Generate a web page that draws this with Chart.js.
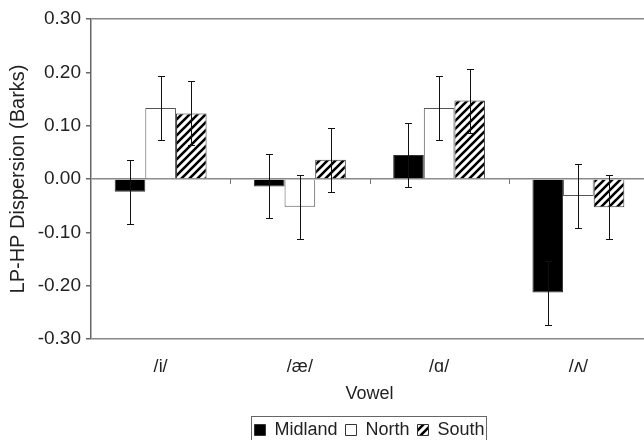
<!DOCTYPE html>
<html>
<head>
<meta charset="utf-8">
<script src="https://cdn.jsdelivr.net/npm/chart.js@4"></script>
<style>
  html, body { margin: 0; padding: 0; background: #fff; overflow: hidden; }
  #wrap { width: 652px; height: 440px; }
</style>
</head>
<body>
<div id="wrap"><canvas id="chart"></canvas></div>
<script>
// 数据
const vowels = ['/i/', '/æ/', '/ɑ/', '/ʌ/'];
const seriesNames = ['Midland', 'North', 'South'];
const midland = [-0.024, -0.014, 0.045, -0.213];
const north = [0.133, -0.052, 0.133, -0.032];
const south = [0.123, 0.036, 0.147, -0.053];
const midlandErr = [0.06, 0.06, 0.06, 0.06];
const northErr = [0.06, 0.06, 0.06, 0.06];
const southErr = [0.06, 0.06, 0.06, 0.06];
const yTicks = [-0.3, -0.2, -0.1, 0, 0.1, 0.2, 0.3];

const FONT = '"Liberation Sans", Arial, sans-serif';
const TEXT = '#222';

// 斜线填充
function makeHatch() {
  const c = document.createElement('canvas');
  c.width = 8; c.height = 8;
  const g = c.getContext('2d');
  g.fillStyle = '#fff';
  g.fillRect(0, 0, 8, 8);
  g.strokeStyle = '#000';
  g.lineWidth = 2.6;
  g.beginPath();
  g.moveTo(-2, 10); g.lineTo(10, -2);
  g.moveTo(-6, 6); g.lineTo(6, -6);
  g.moveTo(2, 14); g.lineTo(14, 2);
  g.stroke();
  return g.createPattern(c, 'repeat');
}
const hatch = makeHatch();

// 误差线 + 零线上的分类刻度 + 图例外框
const extras = {
  id: 'extras',
  afterDatasetsDraw(chart) {
    const ctx = chart.ctx;
    const y = chart.scales.y;
    const x = chart.scales.x;
    ctx.save();
    const y0 = y.getPixelForValue(0);
    ctx.strokeStyle = '#777';
    ctx.lineWidth = 1;
    ctx.beginPath();
    for (let i = 1; i < vowels.length; i++) {
      const px = Math.round((x.getPixelForTick(i - 1) + x.getPixelForTick(i)) / 2) + 0.5;
      ctx.moveTo(px, y0);
      ctx.lineTo(px, y0 + 5);
    }
    ctx.stroke();
    // error bars
    ctx.strokeStyle = '#111';
    chart.data.datasets.forEach((ds, di) => {
      const meta = chart.getDatasetMeta(di);
      meta.data.forEach((bar, i) => {
        const v = ds.data[i], e = ds.errors[i];
        const cx = Math.round(bar.x) + 0.5;
        const top = Math.round(y.getPixelForValue(v + e)) + 0.5;
        const bot = Math.round(y.getPixelForValue(v - e)) + 0.5;
        ctx.beginPath();
        ctx.moveTo(cx, top); ctx.lineTo(cx, bot);
        ctx.moveTo(cx - 3.5, top); ctx.lineTo(cx + 3.5, top);
        ctx.moveTo(cx - 3.5, bot); ctx.lineTo(cx + 3.5, bot);
        ctx.stroke();
      });
    });
    ctx.restore();
  },
  afterDraw(chart) {
    const boxes = chart.legend && chart.legend.legendHitBoxes;
    if (!boxes || !boxes.length) return;
    const l = Math.min(...boxes.map(b => b.left)) - 3;
    const r = Math.max(...boxes.map(b => b.left + b.width)) + 2;
    const t = Math.min(...boxes.map(b => b.top)) - 5;
    const b2 = Math.max(...boxes.map(b => b.top + b.height)) + 1;
    const ctx = chart.ctx;
    ctx.save();
    ctx.strokeStyle = '#666';
    ctx.lineWidth = 1;
    ctx.strokeRect(Math.round(l) + 0.5, Math.round(t) + 0.5, Math.round(r - l), Math.round(b2 - t));
    ctx.restore();
  }
};

new Chart(document.getElementById('chart'), {
  type: 'bar',
  data: {
    labels: vowels,
    datasets: [
      { label: seriesNames[0], data: midland, errors: midlandErr,
        backgroundColor: '#000', borderColor: '#333', borderWidth: 1 },
      { label: seriesNames[1], data: north, errors: northErr,
        backgroundColor: '#fff', borderColor: '#555', borderWidth: 1 },
      { label: seriesNames[2], data: south, errors: southErr,
        backgroundColor: hatch, borderColor: '#333', borderWidth: 1 }
    ]
  },
  options: {
    responsive: true,
    maintainAspectRatio: false,
    animation: false,
    datasets: { bar: { categoryPercentage: 0.66, barPercentage: 1.0 } },
    layout: { padding: { left: 0, right: 4, top: 19, bottom: -9 } },
    plugins: {
      tooltip: { enabled: false },
      legend: {
        position: 'bottom',
        fullSize: false,
        labels: {
          color: TEXT,
          font: { family: FONT, size: 18 },
          boxWidth: 11,
          boxHeight: 11,
          padding: 3,
          generateLabels(chart) {
            const n = chart.data.datasets.length;
            return chart.data.datasets.map((ds, i) => ({
              text: i < n - 1 ? ds.label + ' ' : ds.label,
              fillStyle: ds.backgroundColor,
              strokeStyle: '#333',
              lineWidth: 1,
              fontColor: TEXT,
              datasetIndex: i
            }));
          }
        }
      }
    },
    scales: {
      x: {
        grid: { display: false, drawTicks: false },
        border: { display: false },
        ticks: { color: TEXT, font: { family: FONT, size: 18 }, padding: 17 },
        title: { display: true, text: 'Vowel', color: TEXT,
                 font: { family: FONT, size: 18 }, padding: { top: 4, bottom: 13 } },
        afterFit(scale) { scale.height = 79; }
      },
      y: {
        min: -0.3,
        max: 0.3,
        afterBuildTicks(scale) { scale.ticks = yTicks.map(v => ({ value: v })); },
        ticks: {
          color: TEXT,
          font: { family: FONT, size: 19 },
          padding: 5,
          callback: v => v.toFixed(2)
        },
        grid: {
          drawOnChartArea: true,
          color: ctx => (Math.abs(ctx.tick.value) < 1e-9 || Math.abs(Math.abs(ctx.tick.value) - 0.3) < 1e-9) ? '#888' : 'rgba(0,0,0,0)',
          tickColor: '#666',
          tickLength: 5,
          lineWidth: 1.5
        },
        border: { color: '#666', width: 1.5 },
        title: { display: true, text: 'LP-HP Dispersion (Barks)', color: TEXT,
                 font: { family: FONT, size: 20 }, padding: { top: 6, bottom: 4 } },
        afterFit(scale) { scale.width = 91; }
      }
    }
  },
  plugins: [extras]
});
</script>
</body>
</html>
